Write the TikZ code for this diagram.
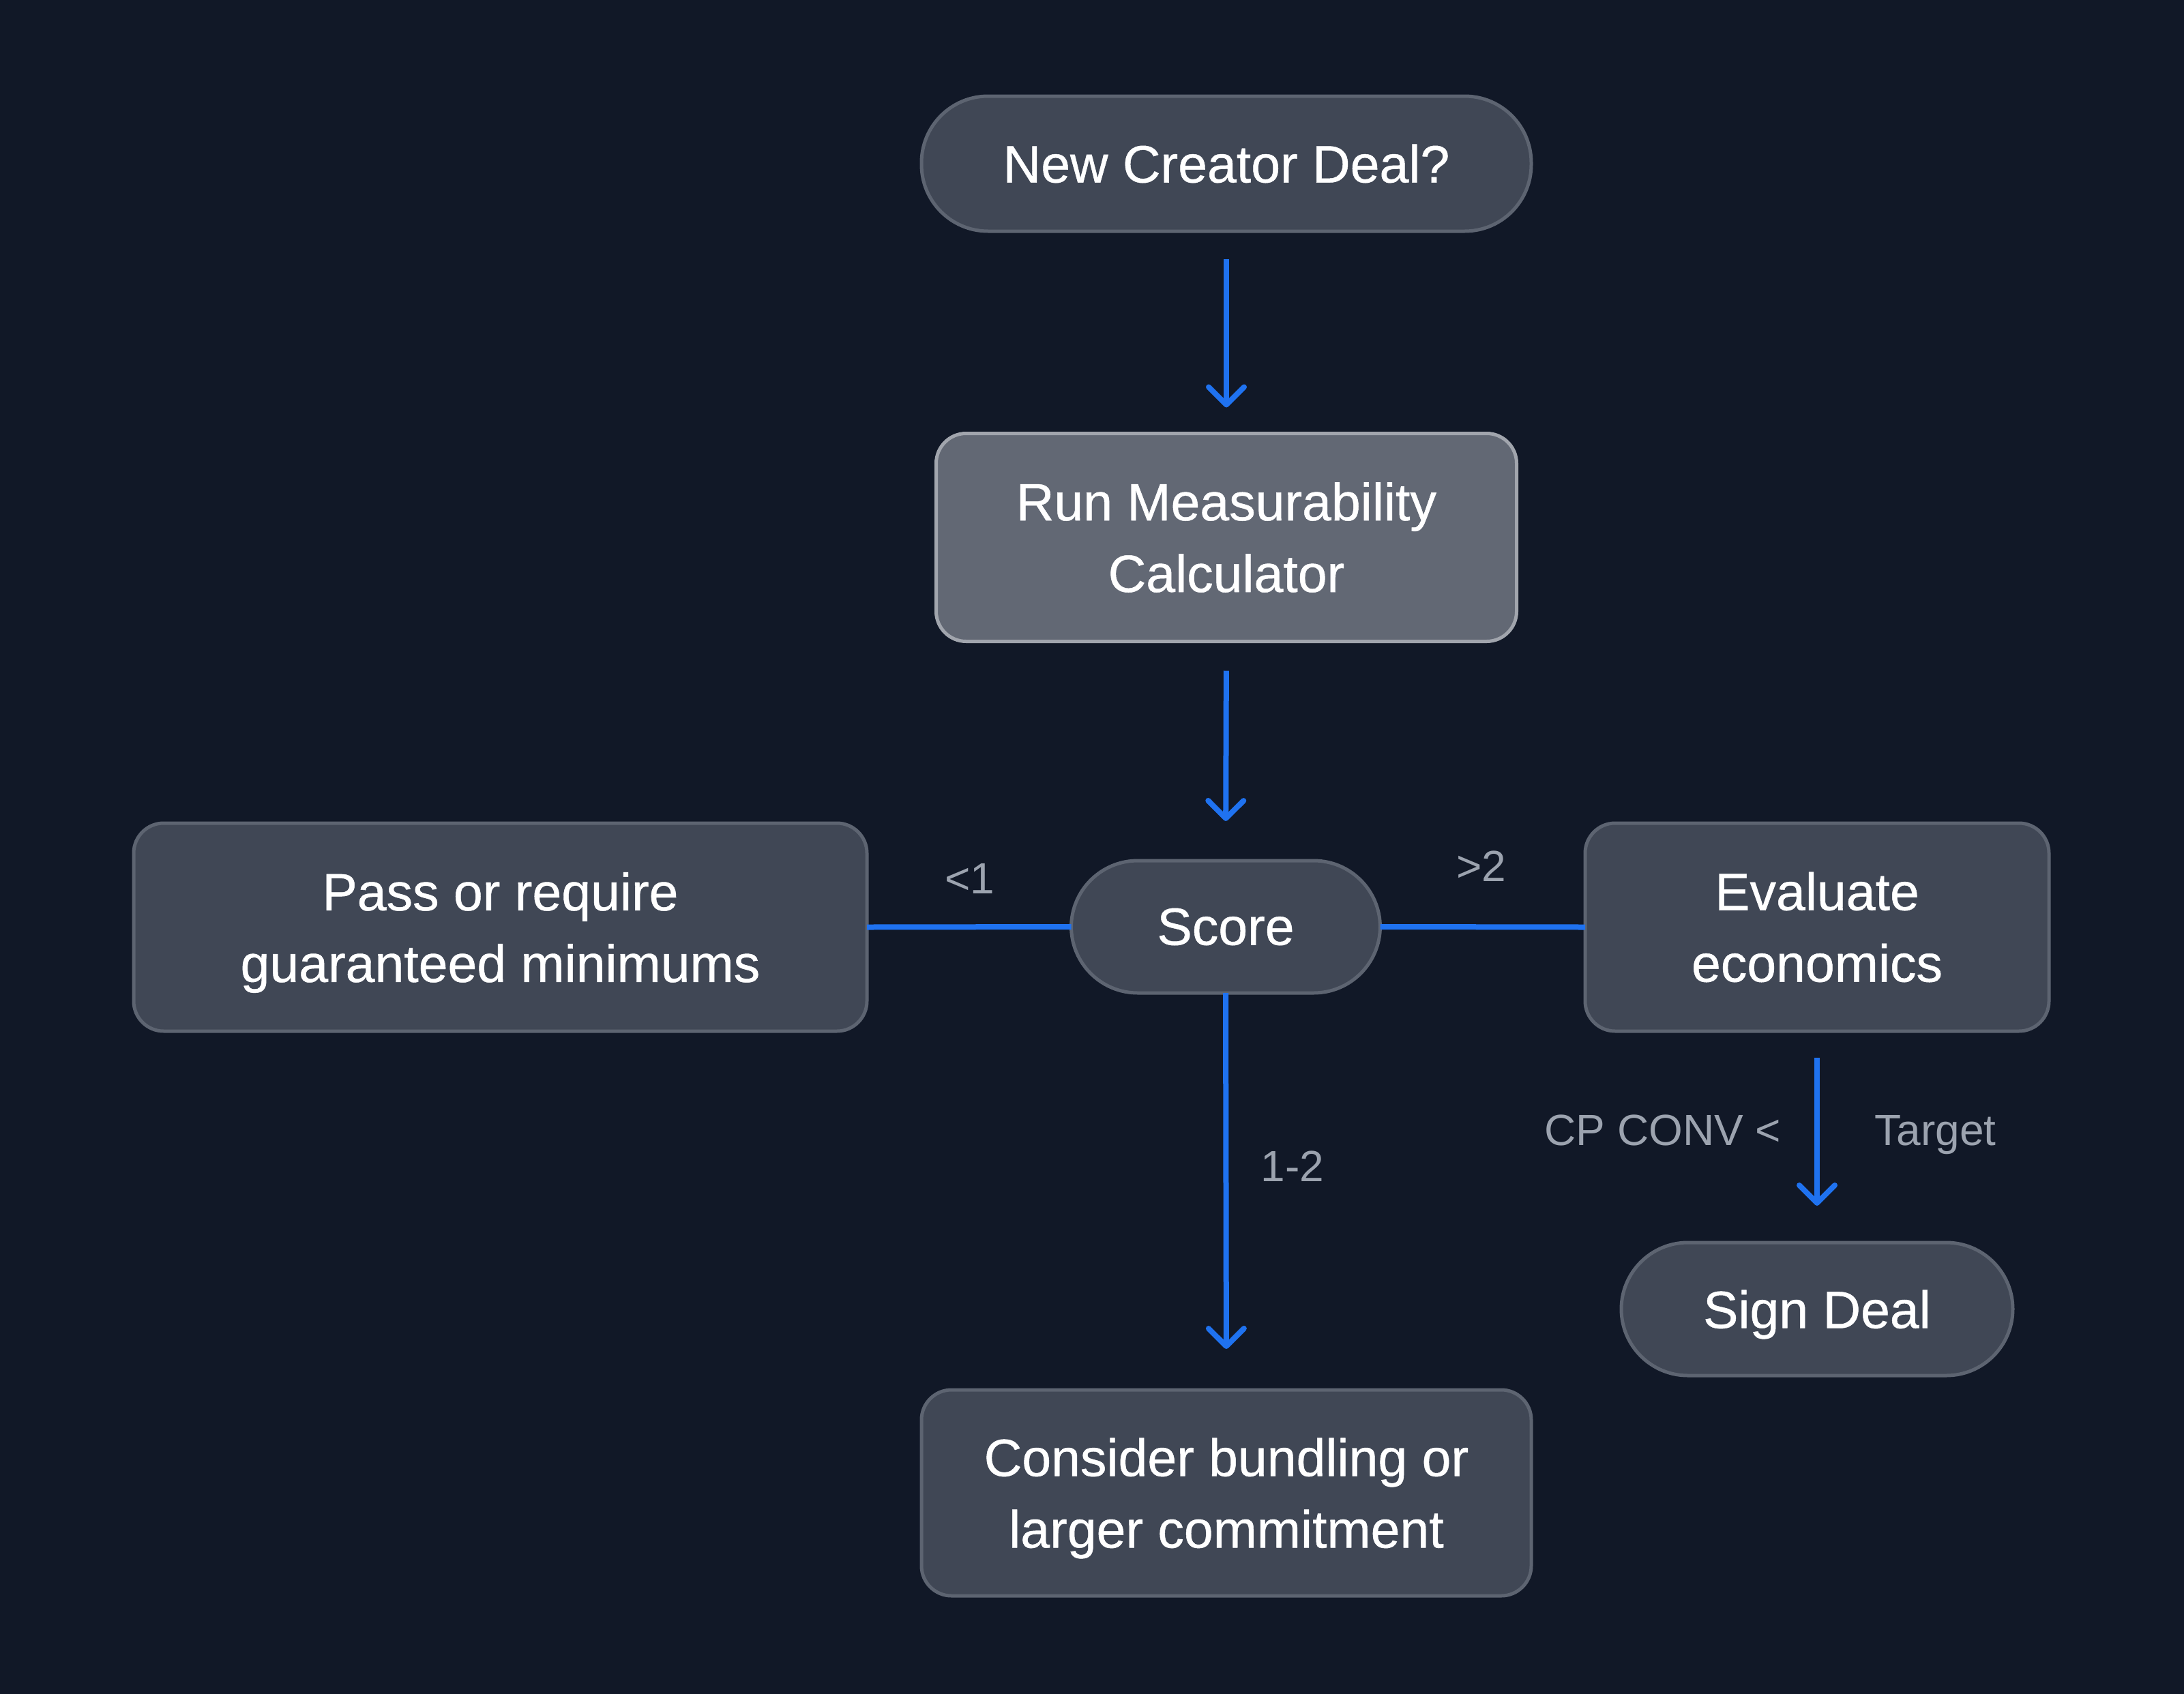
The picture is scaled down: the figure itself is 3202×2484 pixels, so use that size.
\documentclass[tikz,border=0pt]{standalone}
\usepackage{fontspec}
\setmainfont{Liberation Sans}
\newfontfamily\nodefont{Liberation Sans}[FakeBold=0.6,BoldFont=Liberation Sans]
\usetikzlibrary{arrows.meta}
\definecolor{bgc}{HTML}{111827}
\definecolor{nodefill}{HTML}{404755}
\definecolor{nodeline}{HTML}{5D6471}
\definecolor{runfill}{HTML}{626874}
\definecolor{runline}{HTML}{A1A5AD}
\definecolor{flowblue}{HTML}{1F72F0}
\definecolor{labelgray}{HTML}{9CA3AF}
\tikzset{
  box/.style={draw=nodeline, fill=nodefill, line width=1.25pt, text=white,
    inner sep=0pt, outer sep=0pt, align=center,
    font=\nodefont\bfseries\fontsize{19.25}{26.25}\selectfont},
  rbox/.style={box, rounded corners=11pt},
  pill/.style={box, rounded corners=24.4pt},
  runbox/.style={rbox, draw=runline, fill=runfill},
  flow/.style={draw=flowblue, line width=2pt},
  arr/.style={flow, -{Straight Barb[length=6.5pt, width=13pt, line cap=round, line join=round]}},
  lbl/.style={text=labelgray, inner sep=0pt, font=\fontsize{16}{19}\selectfont}
}
\begin{document}
\begin{tikzpicture}[x=0.25pt, y=-0.25pt]
\fill[bgc] (0,0) rectangle (3202,2484);
\useasboundingbox (0,0) rectangle (3202,2484);

\node[pill, minimum width=223.5pt, minimum height=49.5pt] (n1) at (1798,240) {New Creator Deal?};
\node[runbox, minimum width=212.75pt, minimum height=76.25pt] (n2) at (1798,788) {Run Measurability\\Calculator};
\node[pill, minimum width=113.25pt, minimum height=48.5pt] (score) at (1797,1359) {Score};
\node[rbox, minimum width=268.75pt, minimum height=76.25pt] (pass) at (733.5,1359.5) {Pass or require\\\smash{guaranteed minimums}};
\node[rbox, minimum width=170pt, minimum height=76.25pt] (eval) at (2664,1359.5) {Evaluate\\economics};
\node[pill, minimum width=143.5pt, minimum height=48.75pt, text depth=0pt] (sign) at (2664,1919.5) {Sign Deal};
\node[rbox, minimum width=223.5pt, minimum height=75.5pt] (cons) at (1798,2189) {Consider bundling or\\\smash{larger commitment}};

\draw[arr, shorten <=10.25pt, shorten >=9.5pt] (n1.south) -- (n2.north);
\draw[arr, shorten <=10.75pt, shorten >=14.5pt] (n2.south) -- (score.north);
\draw[arr, shorten >=15pt] (score.south) -- (cons.north);
\draw[arr, shorten <=9.75pt, shorten >=13.5pt] (eval.south) -- (sign.north);
\draw[flow] (pass.east) -- (score.west);
\draw[flow] (score.east) -- (eval.west);

\node[lbl, anchor=base] (l1) at (1422,1310) {<1};
\node[lbl, anchor=base] (l2) at (2172,1292) {>2};
\node[lbl, anchor=base west] (l3) at (1848,1732) {1-2};
\node[lbl, anchor=base east] (l4) at (2612,1679) {CP CONV <};
\node[lbl, anchor=base west] (l5) at (2748,1679) {Target};
\end{tikzpicture}
\end{document}
